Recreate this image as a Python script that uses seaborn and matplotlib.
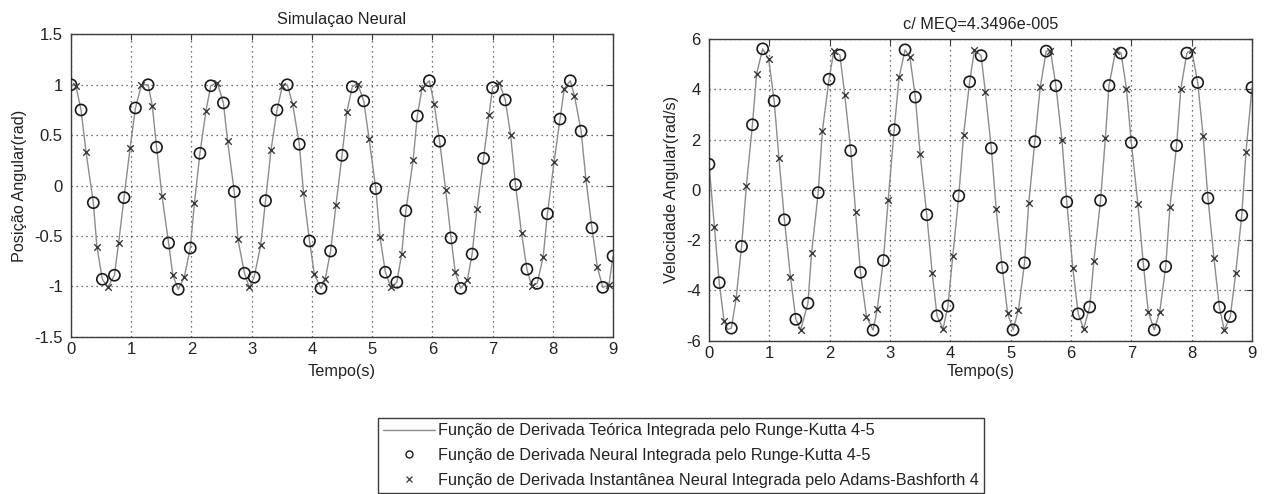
import matplotlib
matplotlib.use("Agg")
import matplotlib.pyplot as plt
from matplotlib.lines import Line2D
import seaborn as sns

# ---------------- DATA ----------------
# Left panel: angular position
pos_line_t = [0, 0.08, 0.166, 0.25, 0.37, 0.43, 0.52, 0.61, 0.72, 0.79, 0.88, 0.98, 1.07, 1.17, 1.28,
              1.35, 1.42, 1.51, 1.62, 1.69, 1.78, 1.88, 1.98, 2.05, 2.14, 2.24, 2.32, 2.43, 2.53, 2.60,
              2.71, 2.77, 2.88, 2.96, 3.04, 3.15, 3.23, 3.32, 3.42, 3.51, 3.59, 3.68, 3.79, 3.86, 3.96,
              4.04, 4.15, 4.22, 4.31, 4.40, 4.50, 4.58, 4.67, 4.76, 4.86, 4.95, 5.06, 5.13, 5.22, 5.31,
              5.41, 5.49, 5.56, 5.68, 5.75, 5.83, 5.95, 6.03, 6.12, 6.22, 6.31, 6.38, 6.47, 6.58, 6.66,
              6.74, 6.85, 6.94, 7.00, 7.11, 7.21, 7.30, 7.38, 7.48, 7.57, 7.65, 7.74, 7.84, 7.91, 8.02,
              8.12, 8.19, 8.29, 8.36, 8.47, 8.55, 8.65, 8.74, 8.83, 8.93, 9.0]
pos_line_y = [1.0, 0.99, 0.75, 0.33, -0.17, -0.61, -0.93, -1.01, -0.89, -0.57, -0.12, 0.37, 0.77, 1.0, 1.0,
              0.79, 0.38, -0.10, -0.57, -0.89, -1.03, -0.91, -0.62, -0.17, 0.32, 0.74, 0.99, 1.02, 0.82, 0.44,
              -0.06, -0.53, -0.87, -1.01, -0.91, -0.59, -0.15, 0.35, 0.75, 0.99, 1.0, 0.81, 0.41, -0.07, -0.55,
              -0.88, -1.02, -0.93, -0.65, -0.19, 0.30, 0.73, 0.98, 1.01, 0.84, 0.46, -0.03, -0.51, -0.86, -1.01,
              -0.96, -0.68, -0.25, 0.25, 0.69, 0.97, 1.04, 0.81, 0.44, -0.04, -0.52, -0.86, -1.02, -0.94, -0.68,
              -0.23, 0.27, 0.70, 0.97, 1.02, 0.85, 0.50, 0.01, -0.47, -0.83, -1.0, -0.97, -0.71, -0.28, 0.23,
              0.66, 0.96, 1.04, 0.89, 0.54, 0.06, -0.42, -0.81, -1.01, -0.99, -0.70]
pos_circ_t = [0, 0.166, 0.37, 0.52, 0.72, 0.88, 1.07, 1.28, 1.42, 1.62, 1.78, 1.98, 2.14, 2.32, 2.53, 2.71,
              2.88, 3.04, 3.23, 3.42, 3.59, 3.79, 3.96, 4.15, 4.31, 4.50, 4.67, 4.86, 5.06, 5.22, 5.41, 5.56,
              5.75, 5.95, 6.12, 6.31, 6.47, 6.66, 6.85, 7.00, 7.21, 7.38, 7.57, 7.74, 7.91, 8.12, 8.29, 8.47,
              8.65, 8.83, 9.0]
pos_circ_y = [1.0, 0.75, -0.17, -0.93, -0.89, -0.12, 0.77, 1.0, 0.38, -0.57, -1.03, -0.62, 0.32, 0.99, 0.82,
              -0.06, -0.87, -0.91, -0.15, 0.75, 1.0, 0.41, -0.55, -1.02, -0.65, 0.30, 0.98, 0.84, -0.03, -0.86,
              -0.96, -0.25, 0.69, 1.04, 0.44, -0.52, -1.02, -0.68, 0.27, 0.97, 0.85, 0.01, -0.83, -0.97, -0.28,
              0.66, 1.04, 0.54, -0.42, -1.01, -0.70]
pos_x_t = [0.08, 0.25, 0.43, 0.61, 0.79, 0.98, 1.17, 1.35, 1.51, 1.69, 1.88, 2.05, 2.24, 2.43, 2.60, 2.77,
           2.96, 3.15, 3.32, 3.51, 3.68, 3.86, 4.04, 4.22, 4.40, 4.58, 4.76, 4.95, 5.13, 5.31, 5.49, 5.68,
           5.83, 6.03, 6.22, 6.38, 6.58, 6.74, 6.94, 7.11, 7.30, 7.48, 7.65, 7.84, 8.02, 8.19, 8.36, 8.55,
           8.74, 8.93]
pos_x_y = [0.99, 0.33, -0.61, -1.01, -0.57, 0.37, 1.0, 0.79, -0.10, -0.89, -0.91, -0.17, 0.74, 1.02, 0.44,
           -0.53, -1.01, -0.59, 0.35, 0.99, 0.81, -0.07, -0.88, -0.93, -0.19, 0.73, 1.01, 0.46, -0.51, -1.01,
           -0.68, 0.25, 0.97, 0.81, -0.04, -0.86, -0.94, -0.23, 0.70, 1.02, 0.50, -0.47, -1.0, -0.71, 0.23,
           0.96, 0.89, 0.06, -0.81, -0.99]

# Right panel: angular velocity
vel_line_t = [0, 0.09, 0.17, 0.25, 0.31, 0.37, 0.45, 0.54, 0.62, 0.72, 0.79, 0.89, 0.99, 1.08, 1.16, 1.25,
              1.35, 1.44, 1.52, 1.64, 1.70, 1.81, 1.88, 1.99, 2.07, 2.17, 2.25, 2.35, 2.43, 2.51, 2.61,
              2.72, 2.79, 2.89, 2.97, 3.07, 3.15, 3.25, 3.33, 3.42, 3.50, 3.61, 3.70, 3.78, 3.88, 3.96,
              4.04, 4.14, 4.22, 4.32, 4.40, 4.51, 4.58, 4.68, 4.76, 4.86, 4.95, 5.04, 5.13, 5.23, 5.30,
              5.40, 5.49, 5.59, 5.66, 5.75, 5.85, 5.93, 6.03, 6.12, 6.21, 6.31, 6.38, 6.49, 6.57, 6.63,
              6.74, 6.83, 6.92, 7.00, 7.11, 7.20, 7.28, 7.38, 7.47, 7.57, 7.64, 7.75, 7.82, 7.92, 8.00,
              8.10, 8.19, 8.27, 8.37, 8.46, 8.54, 8.64, 8.73, 8.83, 8.90, 9.0]
vel_line_y = [1.02, -1.46, -3.69, -5.21, -5.55, -5.50, -4.32, -2.25, 0.16, 2.59, 4.62, 5.61, 5.20, 3.54, 1.26,
              -1.19, -3.45, -5.15, -5.57, -4.51, -2.52, -0.11, 2.35, 4.40, 5.54, 5.36, 3.79, 1.56, -0.88,
              -3.28, -5.04, -5.58, -4.73, -2.81, -0.40, 2.39, 4.47, 5.57, 5.28, 3.69, 1.43, -0.99, -3.32,
              -5.01, -5.53, -4.62, -2.65, -0.24, 2.19, 4.30, 5.57, 5.34, 3.90, 1.66, -0.77, -3.09, -4.91,
              -5.57, -4.77, -2.90, -0.53, 1.92, 4.08, 5.52, 5.54, 4.14, 1.99, -0.48, -3.10, -4.93, -5.53,
              -4.66, -2.81, -0.42, 2.06, 4.15, 5.54, 5.44, 4.01, 1.88, -0.58, -2.97, -4.84, -5.57, -4.87,
              -3.05, -0.69, 1.76, 4.01, 5.44, 5.57, 4.27, 2.15, -0.33, -2.72, -4.67, -5.57, -5.04, -3.32,
              -1.01, 1.49, 4.07]
vel_circ_t = [0, 0.17, 0.37, 0.54, 0.72, 0.89, 1.08, 1.25, 1.44, 1.64, 1.81, 1.99, 2.17, 2.35, 2.51, 2.72,
              2.89, 3.07, 3.25, 3.42, 3.61, 3.78, 3.96, 4.14, 4.32, 4.51, 4.68, 4.86, 5.04, 5.23, 5.40, 5.59,
              5.75, 5.93, 6.12, 6.31, 6.49, 6.63, 6.83, 7.00, 7.20, 7.38, 7.57, 7.75, 7.92, 8.10, 8.27, 8.46,
              8.64, 8.83, 9.0]
vel_circ_y = [1.02, -3.69, -5.50, -2.25, 2.59, 5.61, 3.54, -1.19, -5.15, -4.51, -0.11, 4.40, 5.36, 1.56, -3.28,
              -5.58, -2.81, 2.39, 5.57, 3.69, -0.99, -5.01, -4.62, -0.24, 4.30, 5.34, 1.66, -3.09, -5.57,
              -2.90, 1.92, 5.52, 4.14, -0.48, -4.93, -4.66, -0.42, 4.15, 5.44, 1.88, -2.97, -5.57, -3.05,
              1.76, 5.44, 4.27, -0.33, -4.67, -5.04, -1.01, 4.07]
vel_x_t = [0.09, 0.25, 0.45, 0.62, 0.79, 0.99, 1.16, 1.35, 1.52, 1.70, 1.88, 2.07, 2.25, 2.43, 2.61, 2.79,
           2.97, 3.15, 3.33, 3.50, 3.70, 3.88, 4.04, 4.22, 4.40, 4.58, 4.76, 4.95, 5.13, 5.30, 5.49, 5.66,
           5.85, 6.03, 6.21, 6.38, 6.57, 6.74, 6.92, 7.11, 7.28, 7.47, 7.64, 7.82, 8.00, 8.19, 8.37, 8.54,
           8.73, 8.90]
vel_x_y = [-1.46, -5.21, -4.32, 0.16, 4.62, 5.20, 1.26, -3.45, -5.57, -2.52, 2.35, 5.54, 3.79, -0.88, -5.04,
           -4.73, -0.40, 4.47, 5.28, 1.43, -3.32, -5.53, -2.65, 2.19, 5.57, 3.90, -0.77, -4.91, -4.77, -0.53,
           4.08, 5.54, 1.99, -3.10, -5.53, -2.81, 2.06, 5.54, 4.01, -0.58, -4.84, -4.87, -0.69, 4.01, 5.57,
           2.15, -2.72, -5.57, -3.32, 1.49]

x_ticks = [0, 1, 2, 3, 4, 5, 6, 7, 8, 9]
x_tick_labels = ["0", "1", "2", "3", "4", "5", "6", "7", "8", "9"]
pos_ticks = [-1.5, -1, -0.5, 0, 0.5, 1, 1.5]
pos_tick_labels = ["-1.5", "-1", "-0.5", "0", "0.5", "1", "1.5"]
vel_ticks = [-6, -4, -2, 0, 2, 4, 6]
vel_tick_labels = ["-6", "-4", "-2", "0", "2", "4", "6"]

title_left = "Simulaçao Neural"
title_right = "c/ MEQ=4.3496e-005"
xlabel = "Tempo(s)"
ylabel_left = "Posição Angular(rad)"
ylabel_right = "Velocidade Angular(rad/s)"
legend_labels = [
    "Função de Derivada Teórica Integrada pelo Runge-Kutta 4-5",
    "Função de Derivada Neural Integrada pelo Runge-Kutta 4-5",
    "Função de Derivada Instantânea Neural Integrada pelo Adams-Bashforth 4",
]

# ---------------- STYLE ----------------
sns.set_style("white")
plt.rcParams["font.family"] = ["Liberation Sans", "DejaVu Sans"]

LINE_C = "#8c8c8c"
CIRC_C = "#1a1a1a"
X_C = "#3a3a3a"
FRAME_C = "#3c3c3c"
TICK_FS = 12
LABEL_FS = 11.7

fig = plt.figure(figsize=(12.64, 4.94), dpi=100)
ax1 = fig.add_axes([0.0562, 0.3184, 0.4288, 0.612])
ax2 = fig.add_axes([0.5609, 0.3103, 0.4296, 0.6107])


def draw(ax, lt, ly, ct, cy, xt, xy):
    sns.lineplot(x=lt, y=ly, ax=ax, color=LINE_C, lw=1.0, sort=False, estimator=None, zorder=2)
    sns.scatterplot(x=ct, y=cy, ax=ax, marker="o", s=64, facecolors="none",
                    edgecolor=CIRC_C, linewidth=1.2, zorder=3)
    sns.scatterplot(x=xt, y=xy, ax=ax, marker="x", s=22, color=X_C, linewidth=1.0, zorder=3)


def style(ax, yticks, ylabels, ylim, title, ylab, ylab_x, xlab_y):
    ax.set_xlim(0, 9)
    ax.set_ylim(*ylim)
    ax.set_xticks(x_ticks)
    ax.set_xticklabels(x_tick_labels)
    ax.set_yticks(yticks)
    ax.set_yticklabels(ylabels)
    ax.grid(True, color="#444444", linestyle=(0, (1, 3)), linewidth=0.9)
    ax.set_axisbelow(True)
    for sp in ax.spines.values():
        sp.set_color(FRAME_C)
        sp.set_linewidth(1.0)
        sp.set_visible(True)
    ax.tick_params(direction="in", length=4, width=0.8, color=FRAME_C, top=True, right=True,
                   labelsize=TICK_FS, labelcolor="#222222")
    ax.tick_params(axis="x", pad=4)
    ax.tick_params(axis="y", pad=6)
    ax.set_title(title, fontsize=LABEL_FS, pad=7.5, color="#222222")
    ax.set_xlabel(xlabel, fontsize=LABEL_FS, color="#222222")
    ax.set_ylabel(ylab, fontsize=LABEL_FS, color="#222222")
    ax.xaxis.set_label_coords(0.5, xlab_y)
    ax.yaxis.set_label_coords(ylab_x, 0.5)


draw(ax1, pos_line_t, pos_line_y, pos_circ_t, pos_circ_y, pos_x_t, pos_x_y)
draw(ax2, vel_line_t, vel_line_y, vel_circ_t, vel_circ_y, vel_x_t, vel_x_y)
style(ax1, pos_ticks, pos_tick_labels, (-1.5, 1.5), title_left, ylabel_left, -0.082, -0.09)
style(ax2, vel_ticks, vel_tick_labels, (-6, 6), title_right, ylabel_right, -0.056, -0.077)

handles = [
    Line2D([], [], color=LINE_C, lw=1.0),
    Line2D([], [], ls="", marker="o", mfc="none", mec=CIRC_C, ms=5, mew=1.0),
    Line2D([], [], ls="", marker="x", color=X_C, ms=4, mew=0.9),
]
leg = fig.legend(handles, legend_labels, loc="center", bbox_to_anchor=(0.5388, 0.078),
                 frameon=True, fancybox=False, edgecolor=FRAME_C, fontsize=11.7,
                 handlelength=3.2, handletextpad=0.2, labelspacing=0.6, borderpad=0.3,
                 framealpha=1.0)
leg.get_frame().set_linewidth(1.0)
for t in leg.get_texts():
    t.set_color("#222222")

fig.savefig("out.png", dpi=100)
